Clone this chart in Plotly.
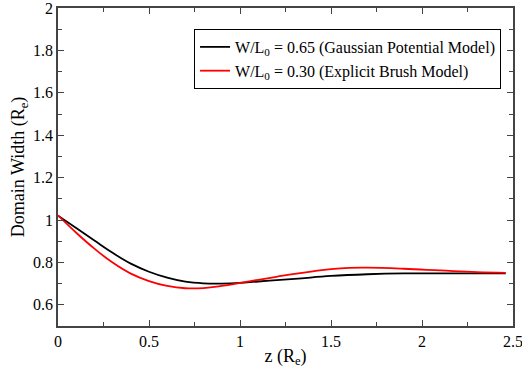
import plotly.graph_objects as go

z_black = [0, 0.1, 0.2, 0.3, 0.4, 0.5, 0.6, 0.7, 0.8, 0.9, 1.0, 1.1, 1.3, 1.5, 1.7, 1.9, 2.2, 2.46]
w_black = [1.02, 0.962, 0.903, 0.845, 0.794, 0.756, 0.728, 0.709, 0.701, 0.700, 0.703, 0.710, 0.722, 0.736, 0.744, 0.748, 0.748, 0.748]
z_red = [0, 0.1, 0.2, 0.3, 0.4, 0.5, 0.6, 0.7, 0.8, 0.9, 1.0, 1.1, 1.2, 1.3, 1.4, 1.5, 1.6, 1.7, 1.9, 2.1, 2.3, 2.46]
w_red = [1.022, 0.94, 0.865, 0.799, 0.747, 0.712, 0.689, 0.678, 0.679, 0.689, 0.703, 0.718, 0.732, 0.746, 0.758, 0.768, 0.774, 0.775, 0.770, 0.762, 0.754, 0.751]

x_ticks = [0, 0.5, 1, 1.5, 2, 2.5]
x_labels = ["0", "0.5", "1", "1.5", "2", "2.5"]
y_ticks = [0.6, 0.8, 1.0, 1.2, 1.4, 1.6, 1.8, 2.0]
y_labels = ["0.6", "0.8", "1", "1.2", "1.4", "1.6", "1.8", "2"]

names = ["W/L<sub>0</sub> = 0.65 (Gaussian Potential Model)",
         "W/L<sub>0</sub> = 0.30 (Explicit Brush Model)"]

font = "Liberation Serif, Times New Roman, serif"
axcol = "#444444"

fig = go.Figure()
fig.add_trace(go.Scatter(x=z_black, y=w_black, mode="lines", name=names[0],
                         line=dict(color="black", width=1.8, shape="spline", smoothing=1.2)))
fig.add_trace(go.Scatter(x=z_red, y=w_red, mode="lines", name=names[1],
                         line=dict(color="red", width=1.8, shape="spline", smoothing=1.2)))

axis_common = dict(showgrid=False, zeroline=False, showline=True, linecolor=axcol,
                   linewidth=1.5, mirror="allticks", ticks="inside", ticklen=6,
                   tickcolor=axcol, tickwidth=1.2, automargin=False,
                   ticklabeloverflow="allow",
                   tickfont=dict(family=font, size=16, color="black"))

fig.update_xaxes(range=[0, 2.5], tickmode="array", tickvals=x_ticks, ticktext=x_labels,
                 minor=dict(tickmode="linear", tick0=0, dtick=0.25, ticks="inside", ticklen=4, tickcolor=axcol),
                 title=dict(text="z (R<sub>e</sub>)", font=dict(family=font, size=18, color="black"), standoff=0),
                 **axis_common)
fig.update_yaxes(range=[0.5, 2], tickmode="array", tickvals=y_ticks, ticktext=y_labels,
                 minor=dict(tickmode="linear", tick0=0.5, dtick=0.1, ticks="inside", ticklen=4, tickcolor=axcol),
                 title=dict(text="Domain Width (R<sub>e</sub>)", font=dict(family=font, size=18, color="black"), standoff=4),
                 **axis_common)

fig.update_layout(
    width=522, height=375,
    margin=dict(l=58, r=9, t=8, b=49),
    plot_bgcolor="white", paper_bgcolor="white",
    font=dict(family=font, color="black"),
    legend=dict(x=0.299, y=0.934, xanchor="left", yanchor="top",
                bordercolor="black", borderwidth=1, bgcolor="white",
                font=dict(family=font, size=16, color="black"),
                tracegroupgap=0, itemwidth=30),
)

fig.write_html("out.html")
